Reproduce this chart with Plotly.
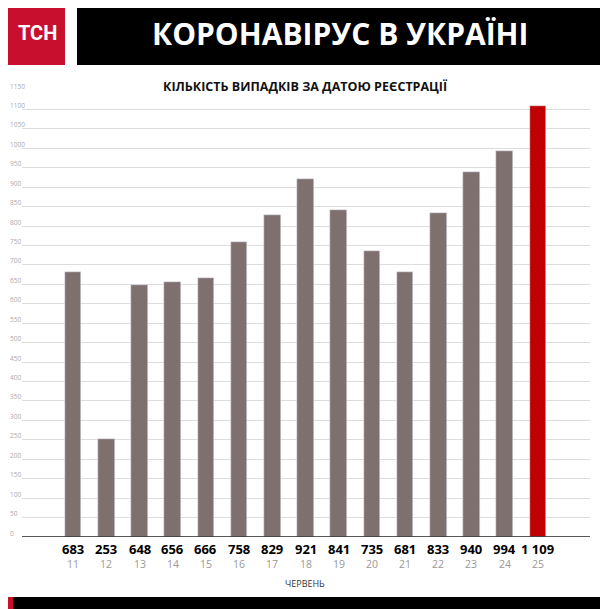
import plotly.graph_objects as go

days = ["11","12","13","14","15","16","17","18","19","20","21","22","23","24","25"]
values = [683,253,648,656,666,758,829,921,841,735,681,833,940,994,1109]
labels = ["683","253","648","656","666","758","829","921","841","735","681","833","940","994","1 109"]
yticks = list(range(0, 1151, 50))
YMAX = 1150

OFF = 8  # page body margin
W, H = 608 - OFF, 609 - OFF
L, R, T, B = 22 - OFF, 18, 90 - OFF, 72
pw, ph = W - L - R, H - T - B
def px(x): return (x - OFF - L) / pw
def py(y): return (H - B - (y - OFF)) / ph

colors = ["#7f7070"] * 14 + ["#c00000"]
x = list(range(len(days)))
fig = go.Figure(go.Bar(x=x, y=values, marker_color=colors, width=0.5, hoverinfo="skip"))

shapes = [
    dict(type="rect", xref="paper", yref="paper", x0=px(0), x1=px(65), y0=py(0), y1=py(65), fillcolor="#c8102e", line_width=0, layer="above"),
    dict(type="rect", xref="paper", yref="paper", x0=px(77), x1=px(608), y0=py(0), y1=py(65), fillcolor="#000000", line_width=0, layer="above"),
    dict(type="rect", xref="paper", yref="paper", x0=px(0), x1=px(608), y0=py(597), y1=py(609), fillcolor="#000000", line_width=0, layer="above"),
    dict(type="rect", xref="paper", yref="paper", x0=px(0), x1=px(13), y0=py(597), y1=py(609), fillcolor="#c8102e", line_width=0, layer="above"),
    dict(type="line", xref="paper", yref="y", x0=0, x1=1, y0=0, y1=0, line=dict(color="#222", width=1.5), layer="above"),
]
ann = [
    dict(text="<b>TCH</b>", x=px(37), y=py(33), font=dict(size=20, color="white", family="Roboto")),
    dict(text="<b>КОРОНАВІРУС В УКРАЇНІ</b>", x=px(340), y=py(33), font=dict(size=30, color="white", family="Open Sans")),
    dict(text="<b>КІЛЬКІСТЬ ВИПАДКІВ ЗА ДАТОЮ РЕЄСТРАЦІЇ</b>", x=px(305), y=py(86), font=dict(size=12.5, color="#111", family="Open Sans")),
    dict(text="ЧЕРВЕНЬ", x=px(305), y=py(583), font=dict(size=9, color="#333", family="Open Sans")),
]
for i in range(len(days)):
    ann.append(dict(text="<b>"+labels[i]+"</b>", x=i, xref="x", y=py(549), font=dict(size=13, color="#000", family="Open Sans")))
    ann.append(dict(text=days[i], x=i, xref="x", y=py(564), font=dict(size=10.5, color="#999", family="Open Sans")))
for a in ann:
    a.setdefault("xref", "paper"); a["yref"] = "paper"; a["showarrow"] = False
    a["xanchor"] = "center"; a["yanchor"] = "middle"
for v in yticks:
    ann.append(dict(text=str(v), xref="paper", x=px(9), yref="paper", y=v / YMAX, yshift=4, xanchor="left", yanchor="middle",
                    showarrow=False, borderpad=0, font=dict(size=6.5, color="#aaa", family="Open Sans")))

fig.update_layout(
    width=W, height=H, margin=dict(l=L, r=R, t=T, b=B, autoexpand=False),
    plot_bgcolor="white", paper_bgcolor="white", showlegend=False,
    shapes=shapes, annotations=ann, bargap=0,
    xaxis=dict(range=[-1.54, 15.57], showticklabels=False, showgrid=False, zeroline=False, fixedrange=True, automargin=False),
    yaxis=dict(range=[0, YMAX], tickvals=yticks, showticklabels=False, showgrid=True, gridcolor="#dddddd", gridwidth=1,
               zeroline=False, automargin=False, ticks=""),
)
fig.write_html("out.html")
